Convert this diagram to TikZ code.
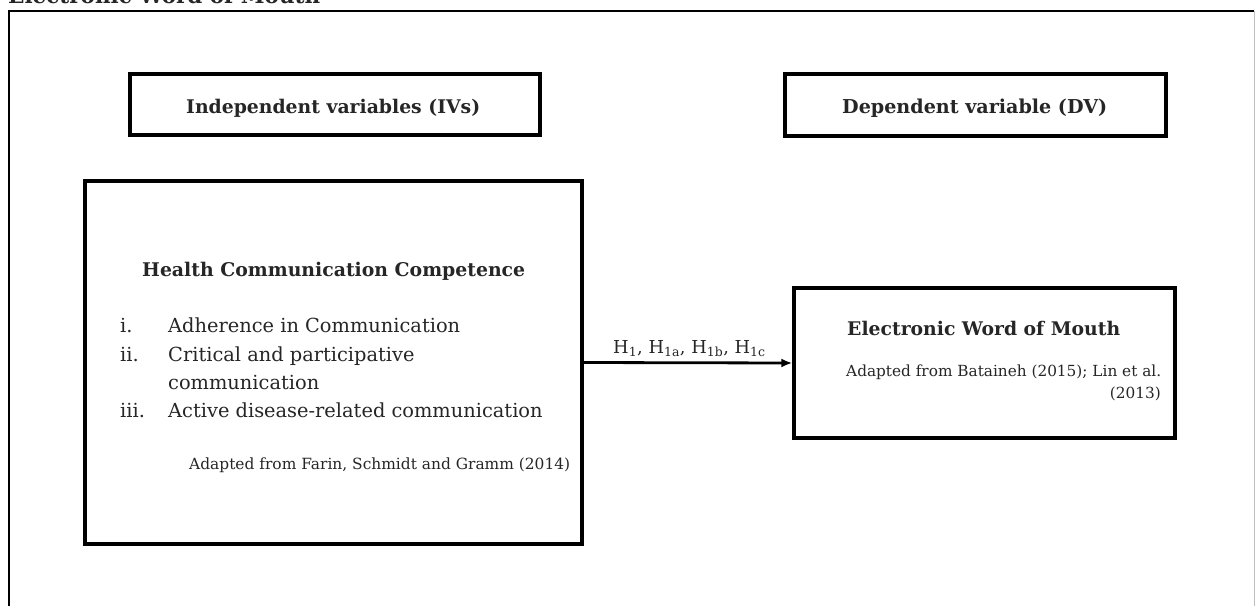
\documentclass[tikz,border=0pt]{standalone}
\usepackage{fontspec}
\setmainfont{DejaVu Serif}
\usetikzlibrary{arrows.meta}
\newcommand\setfit[4]{\setbox0=\hbox{\normalfont#2\fontsize{10}{12}\selectfont #3}\dimen0=\wd0\pgfmathparse{10*#4/\the\dimen0}\global\let#1\pgfmathresult}
\AtBeginDocument{%
\setfit{\szT}{\bfseries}{Electronic Word of Mouth}{312}%
\setfit{\szIV}{\bfseries}{Independent variables (IVs)}{294}%
\setfit{\szDV}{\bfseries}{Dependent variable (DV)}{265}%
\setfit{\szH}{\bfseries}{Health Communication Competence}{383}%
\setfit{\szE}{\bfseries}{Electronic Word of Mouth}{273}%
\setfit{\szL}{}{Adherence in Communication}{292}%
\setfit{\szF}{}{Adapted from Farin, Schmidt and Gramm (2014)}{381}%
\setfit{\szB}{}{Adapted from Bataineh (2015); Lin et al.}{315}%
\setfit{\szHy}{}{H\textsubscript{1}, H\textsubscript{1a}, H\textsubscript{1b}, H\textsubscript{1c}}{154}%
}
\begin{document}
\begin{tikzpicture}[x=1pt,y=-1pt,
  box/.style={draw=black, line width=3.4pt, rectangle, inner sep=0pt},
  txt/.style={inner sep=0pt, text=black!85},
  frame/.style={line width=2.5pt, black},
  conn/.style={line width=2.8pt, -{Latex[length=11pt,width=9pt]}}]
\useasboundingbox (0,0) rectangle (1255,605);
\clip (0,0) rectangle (1255,605);
\fill[white] (0,0) rectangle (1255,605);
% page title (cut off at top)
\node[txt, anchor=base west, font=\bfseries\fontsize{\szT}{\szT}\selectfont] (ptitle) at (8,3.5) {Electronic Word of Mouth};
% outer frame
\draw[frame] (9,610) -- (9,11) -- (1254,11);
\draw[black!25, line width=1pt] (1254,11) -- (1254,610);
% boxes
\node[box, minimum width=410pt, minimum height=61pt] (iv) at (335,104.5) {};
\node[box, minimum width=381pt, minimum height=62pt] (dv) at (975.5,105) {};
\node[box, minimum width=497pt, minimum height=363pt] (hcc) at (333.5,362.5) {};
\node[box, minimum width=381pt, minimum height=150pt] (ewom) at (984.5,363) {};
% header texts
\node[txt, anchor=base west, font=\bfseries\fontsize{\szIV}{\szIV}\selectfont] (ivt) at (186,113) {Independent variables (IVs)};
\node[txt, anchor=base west, font=\bfseries\fontsize{\szDV}{\szDV}\selectfont] (dvt) at (842,113) {Dependent variable (DV)};
% HCC content
\node[txt, anchor=base west, font=\bfseries\fontsize{\szH}{\szH}\selectfont] (hcct) at (142,276) {Health Communication Competence};
\node[txt, anchor=base west, font=\fontsize{\szL}{\szL}\selectfont] (n1) at (120,332) {i.};
\node[txt, anchor=base west, font=\fontsize{\szL}{\szL}\selectfont] (l1) at (168,332) {Adherence in Communication};
\node[txt, anchor=base west, font=\fontsize{\szL}{\szL}\selectfont] (n2) at (120,361) {ii.};
\node[txt, anchor=base west, font=\fontsize{\szL}{\szL}\selectfont] (l2) at (168,361) {Critical and participative};
\node[txt, anchor=base west, font=\fontsize{\szL}{\szL}\selectfont] (l2b) at (168,389) {communication};
\node[txt, anchor=base west, font=\fontsize{\szL}{\szL}\selectfont] (n3) at (120,417) {iii.};
\node[txt, anchor=base west, font=\fontsize{\szL}{\szL}\selectfont] (l3) at (168,417) {Active disease-related communication};
\node[txt, anchor=base west, font=\fontsize{\szF}{\szF}\selectfont] (farin) at (189,469) {Adapted from Farin, Schmidt and Gramm (2014)};
% EWOM content
\node[txt, anchor=base west, font=\bfseries\fontsize{\szE}{\szE}\selectfont] (ewomt) at (847,335) {Electronic Word of Mouth};
\node[txt, anchor=base west, font=\fontsize{\szB}{\szB}\selectfont] (bat) at (846,376) {Adapted from Bataineh (2015); Lin et al.};
\node[txt, anchor=base east, font=\fontsize{\szB}{\szB}\selectfont] (bat2) at (1161,398) {(2013)};
% connector
\draw[conn] (hcc.east) -- (ewom.west);
\node[txt, anchor=base west, font=\fontsize{\szHy}{\szHy}\selectfont] (hyp) at (613,353) {H\textsubscript{1}, H\textsubscript{1a}, H\textsubscript{1b}, H\textsubscript{1c}};
\end{tikzpicture}
\end{document}
